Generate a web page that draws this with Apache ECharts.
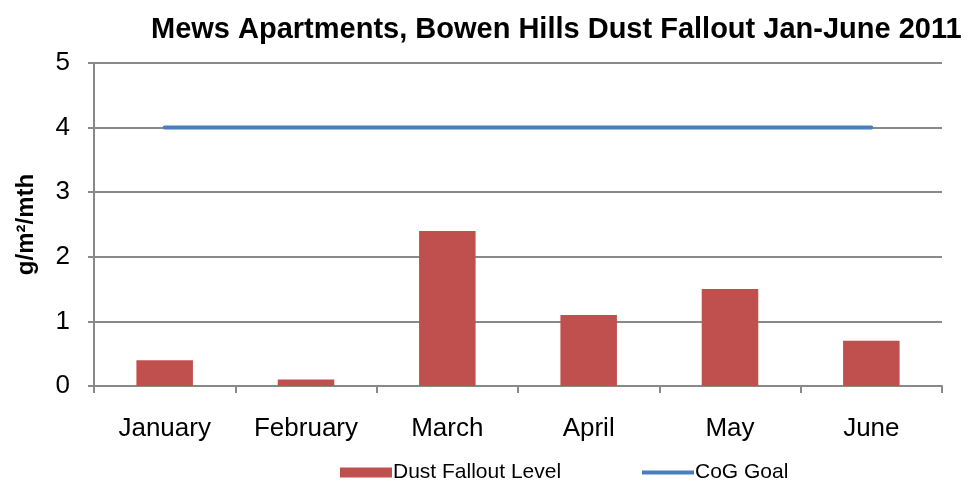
<!DOCTYPE html>
<html><head><meta charset="utf-8">
<script src="https://cdn.jsdelivr.net/npm/echarts@6/dist/echarts.min.js"></script>
<style>html,body{margin:0;padding:0;background:#fff}#c{width:970px;height:481px}</style>
</head><body><div id="c"></div>
<script>
const categories = ['January','February','March','April','May','June'];
const dustFallout = [0.4, 0.1, 2.4, 1.1, 1.5, 0.7];
const cogGoal = [4, 4, 4, 4, 4, 4];
const titleText = 'Mews Apartments, Bowen Hills Dust Fallout Jan-June 2011';
const yName = 'g/m\u00b2/mth';

const F = '"Liberation Sans", Arial, sans-serif';
const grey = '#898989';
const chart = echarts.init(document.getElementById('c'), null, {renderer: 'canvas'});
chart.setOption({
  animation: false,
  title: {text: titleText, left: 146, top: 10,
    textStyle: {fontFamily: F, fontWeight: 'bold', fontSize: 29, color: '#000'}},
  legend: [
    {data: ['Dust Fallout Level'], left: 335, top: 457, icon: 'rect', itemWidth: 52, itemHeight: 10, itemGap: 5,
     textStyle: {fontFamily: F, fontSize: 21, color: '#000', padding: [0,0,0,-4]}},
    {data: ['CoG Goal'], left: 637, top: 457, icon: 'rect', itemWidth: 52, itemHeight: 4, itemGap: 5,
     textStyle: {fontFamily: F, fontSize: 21, color: '#000', padding: [0,0,0,-4]}}
  ],
  grid: {left: 94, right: 28, top: 63, bottom: 95, containLabel: false},
  xAxis: {type: 'category', data: categories, boundaryGap: true,
    axisLine: {lineStyle: {color: grey, width: 2}},
    axisTick: {show: true, alignWithLabel: false, length: 7, lineStyle: {color: grey, width: 2}},
    axisLabel: {fontFamily: F, fontSize: 26, color: '#000', margin: 30}},
  yAxis: {type: 'value', min: 0, max: 5, interval: 1,
    name: yName, nameLocation: 'middle', nameGap: 56, nameRotate: 90,
    nameTextStyle: {fontFamily: F, fontWeight: 'bold', fontSize: 24, color: '#000'},
    axisLine: {show: true, lineStyle: {color: grey, width: 2}},
    axisTick: {show: true, length: 6, lineStyle: {color: grey, width: 2}},
    axisLabel: {fontFamily: F, fontSize: 26, color: '#000', margin: 24},
    splitLine: {show: true, lineStyle: {color: grey, width: 2}}},
  series: [
    {name: 'Dust Fallout Level', type: 'bar', data: dustFallout, barWidth: '40%',
     itemStyle: {color: '#C0504D'}},
    {name: 'CoG Goal', type: 'line', data: cogGoal, symbol: 'none',
     lineStyle: {color: '#4A7EBB', width: 4, cap: 'round'}, itemStyle: {color: '#4A7EBB'}}
  ]
});
</script></body></html>
